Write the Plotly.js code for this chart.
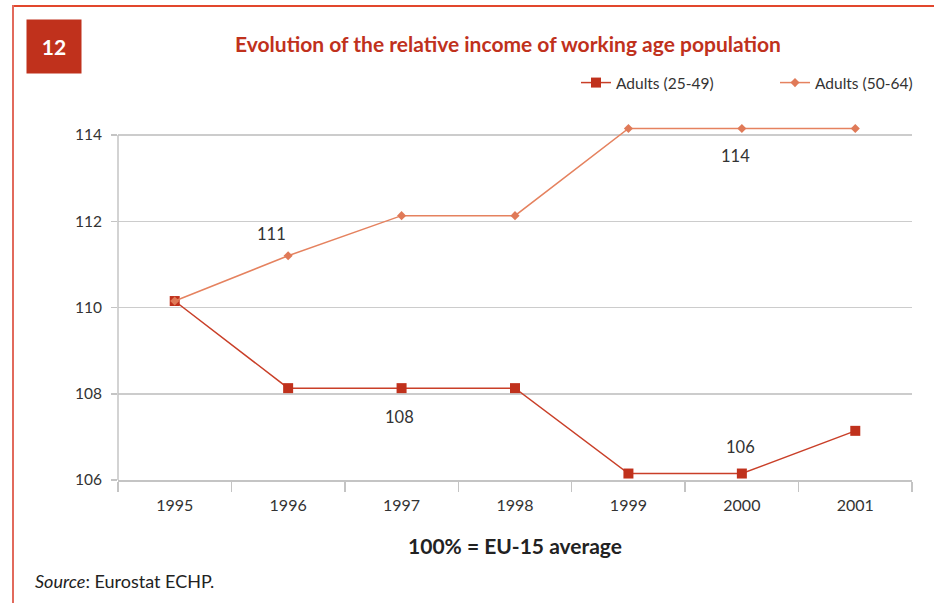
<!DOCTYPE html>
<html>
<head>
<meta charset="utf-8">
<script src="https://cdn.plot.ly/plotly-3.0.1.min.js"></script>
<style>
  html, body { margin: 0; padding: 0; background: #ffffff; }
  #wrap { position: relative; width: 934px; height: 603px; }
  #chart { position: absolute; left: 0; top: 0; width: 934px; height: 603px; }
  .bl { position: absolute; pointer-events: none; }
</style>
</head>
<body>
<div id="wrap">
  <div id="chart"></div>
  <div class="bl" style="left:12px; top:5px; width:922px; height:2px; background:#e2472d;"></div>
  <div class="bl" style="left:12px; top:5px; width:2px; height:598px; background:#e26a5c;"></div>
</div>
<script>
// ---- data ----
const years = ['1995', '1996', '1997', '1998', '1999', '2000', '2001'];
const adults2549 = [110.15, 108.13, 108.13, 108.13, 106.15, 106.15, 107.14];
const adults5064 = [110.15, 111.2, 112.13, 112.13, 114.15, 114.15, 114.15];
const seriesNames = ['Adults (25-49)', 'Adults (50-64)'];
const yTicks = [106, 108, 110, 112, 114];
// indices of labelled points
const labels2549 = [2, 5];
const labels5064 = [1, 5];

const cRed = '#c0311c';
const cOrange = '#e07a58';

const traces = [
  {
    x: years, y: adults2549, name: seriesNames[0], type: 'scatter', mode: 'lines+markers',
    line: { color: '#c93f28', width: 1.5 },
    marker: { symbol: 'square', size: 10, color: cRed },
    cliponaxis: false, legend: 'legend'
  },
  {
    x: years, y: adults5064, name: seriesNames[1], type: 'scatter', mode: 'lines+markers',
    line: { color: '#e5825f', width: 1.5 },
    marker: { symbol: 'diamond', size: 7, color: cOrange },
    cliponaxis: false, legend: 'legend2'
  }
];

function tf(size) { return { family: 'Lato, "DejaVu Sans", sans-serif', size: size, color: '#333333' }; }

const annotations = [];
// data labels
const lblPos2549 = { 2: { dy: -29, dx: -2 }, 5: { dy: 27, dx: -1 } };
const lblPos5064 = { 1: { dy: 22, dx: -17 }, 5: { dy: -27, dx: -6 } };
labels2549.forEach(function (i) {
  annotations.push({
    x: i, y: adults2549[i], xref: 'x', yref: 'y', text: String(Math.round(adults2549[i])),
    showarrow: false, yshift: lblPos2549[i].dy, xshift: lblPos2549[i].dx, font: tf(16.5)
  });
});
labels5064.forEach(function (i) {
  annotations.push({
    x: i, y: adults5064[i], xref: 'x', yref: 'y', text: String(Math.round(adults5064[i])),
    showarrow: false, yshift: lblPos5064[i].dy, xshift: lblPos5064[i].dx, font: tf(16.5)
  });
});
// chart number box
annotations.push({
  xref: 'paper', yref: 'paper', x: (26 - 118) / 794, y: (480 - 19) / 356,
  xanchor: 'left', yanchor: 'top', width: 54, height: 53, borderpad: 0,
  bgcolor: cRed, text: '<b>12</b>', showarrow: false,
  font: { family: 'Lato, sans-serif', size: 21, color: '#ffffff' }
});
// source
annotations.push({
  xref: 'paper', yref: 'paper', x: (33 - 118) / 794, y: (480 - 581) / 356,
  xanchor: 'left', yanchor: 'middle', showarrow: false,
  text: '<i>Source</i>: Eurostat ECHP.',
  font: { family: 'Lato, sans-serif', size: 18, color: '#222222' }
});

const legFont = { family: 'Lato, sans-serif', size: 15.5, color: '#333333' };

const layout = {
  width: 934, height: 603,
  margin: { l: 118, r: 22, t: 124, b: 123 },
  paper_bgcolor: 'rgba(0,0,0,0)',
  plot_bgcolor: '#ffffff',
  title: {
    text: '<b>Evolution of the relative income of working age population</b>',
    x: 508 / 934, xref: 'container', xanchor: 'center',
    y: 1 - 45 / 603, yref: 'container', yanchor: 'middle',
    font: { family: 'Lato, sans-serif', size: 21, color: cRed }
  },
  showlegend: true,
  legend: {
    orientation: 'h', x: (576 - 118) / 794, xanchor: 'left', y: (480 - 83) / 356, yanchor: 'middle',
    font: legFont, bgcolor: 'rgba(0,0,0,0)'
  },
  legend2: {
    orientation: 'h', x: (918 - 118) / 794, xanchor: 'right', y: (480 - 83) / 356, yanchor: 'middle',
    font: legFont, bgcolor: 'rgba(0,0,0,0)'
  },
  xaxis: {
    type: 'category', tickson: 'boundaries', ticks: 'outside', ticklen: 10,
    tickcolor: '#c4c4c4', tickwidth: 1.5,
    showline: true, linecolor: '#c4c4c4', linewidth: 1.5,
    showgrid: false, zeroline: false,
    tickfont: tf(16), ticklabelstandoff: 10,
    range: [-0.5, 6.5],
    title: {
      text: '<b>100% = EU-15 average</b>', standoff: 26,
      font: { family: 'Lato, sans-serif', size: 21, color: '#222222' }
    }
  },
  yaxis: {
    range: [106, 106 + 356 / 43.125],
    tickvals: yTicks, ticktext: yTicks.map(String),
    ticks: 'outside', ticklen: 6, tickcolor: '#c4c4c4', tickwidth: 1.5,
    showgrid: true, gridcolor: '#cccccc', gridwidth: 1.5,
    showline: false, zeroline: false,
    tickfont: tf(15.5), ticklabelstandoff: 6
  },
  shapes: [
    { type: 'line', xref: 'paper', yref: 'y', x0: 0, x1: 0, y0: yTicks[0], y1: yTicks[yTicks.length - 1],
      line: { color: '#c4c4c4', width: 1.5 } }
  ],
  annotations: annotations
};

Plotly.newPlot('chart', traces, layout, { displayModeBar: false, staticPlot: true });
</script>
</body>
</html>
